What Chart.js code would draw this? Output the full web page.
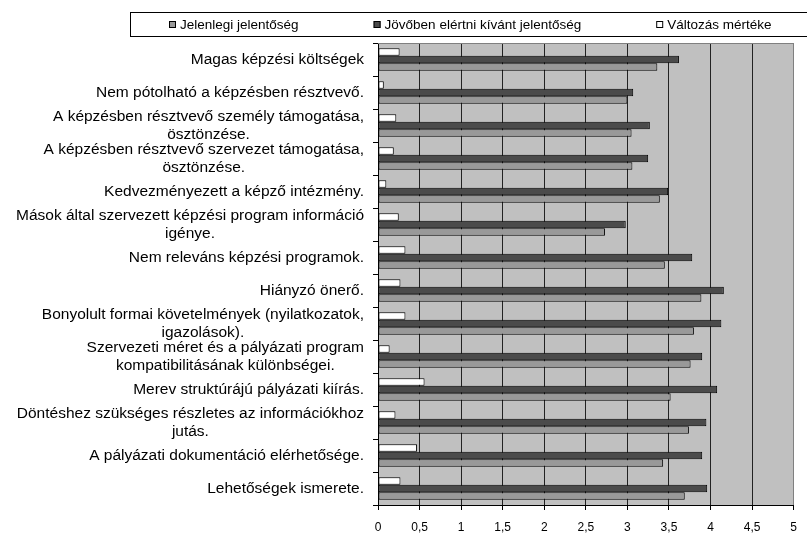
<!DOCTYPE html>
<html>
<head>
<meta charset="utf-8">
<script src="https://cdn.jsdelivr.net/npm/chart.js@4"></script>
<style>
  html, body { margin: 0; padding: 0; background: #fff; }
  #wrap { width: 807px; height: 533px; }
</style>
</head>
<body>
<div id="wrap"><canvas id="chart" width="807" height="533"></canvas></div>
<script>
// Kategóriák felülről lefelé
const categories = [
    'Magas képzési költségek',
    'Nem pótolható a képzésben résztvevő.',
    ['A képzésben résztvevő személy támogatása,', 'ösztönzése.'],
    ['A képzésben résztvevő szervezet támogatása,', 'ösztönzése.'],
    'Kedvezményezett a képző intézmény.',
    ['Mások által szervezett képzési program információ', 'igénye.'],
    'Nem releváns képzési programok.',
    'Hiányzó önerő.',
    ['Bonyolult formai követelmények (nyilatkozatok,', 'igazolások).'],
    ['Szervezeti méret és a pályázati program', 'kompatibilitásának különbségei.'],
    'Merev struktúrájú pályázati kiírás.',
    ['Döntéshez szükséges részletes az információkhoz', 'jutás.'],
    'A pályázati dokumentáció elérhetősége.',
    'Lehetőségek ismerete.'
];

const jelenlegi = [3.36, 3.00, 3.05, 3.06, 3.39, 2.73, 3.45, 3.89, 3.80, 3.76, 3.52, 3.74, 3.43, 3.69];
const jovoben   = [3.62, 3.07, 3.27, 3.25, 3.49, 2.98, 3.78, 4.16, 4.13, 3.90, 4.08, 3.95, 3.90, 3.96];
const valtozas  = [0.26, 0.07, 0.22, 0.19, 0.10, 0.25, 0.33, 0.27, 0.33, 0.14, 0.56, 0.21, 0.47, 0.27];

const xTicks = [0, 0.5, 1, 1.5, 2, 2.5, 3, 3.5, 4, 4.5, 5];

const FONT = '"Liberation Sans", Arial, sans-serif';

// Szürke rajzterület háttér + felső keret
const plotBg = {
    id: 'plotBg',
    beforeDraw(chart) {
        const a = chart.chartArea;
        const ctx = chart.ctx;
        ctx.save();
        ctx.fillStyle = '#c0c0c0';
        ctx.fillRect(a.left, a.top, a.right - a.left, a.bottom - a.top);
        ctx.restore();
    },
    afterDraw(chart) {
        const a = chart.chartArea;
        const ctx = chart.ctx;
        ctx.save();
        ctx.strokeStyle = '#808080';
        ctx.lineWidth = 1;
        ctx.beginPath();
        ctx.moveTo(a.left, Math.round(a.top) + 0.5);
        ctx.lineTo(a.right, Math.round(a.top) + 0.5);
        ctx.stroke();
        ctx.restore();
    }
};

// Kategória feliratok: jobbra igazított blokk, soronként középre
const catLabels = {
    id: 'catLabels',
    afterDraw(chart) {
        const ys = chart.scales.y;
        const ctx = chart.ctx;
        ctx.save();
        ctx.font = '15.5px ' + FONT;
        ctx.fillStyle = '#000';
        ctx.textAlign = 'center';
        ctx.textBaseline = 'middle';
        categories.forEach((lab, i) => {
            const lines = Array.isArray(lab) ? lab : [lab];
            const w = Math.max(...lines.map(l => ctx.measureText(l).width));
            const cx = ys.right - 14 - w / 2;
            const cy = ys.getPixelForValue(i);
            lines.forEach((l, k) => {
                ctx.fillText(l, cx, cy + (k - (lines.length - 1) / 2) * 17.5);
            });
        });
        ctx.restore();
    }
};

// Jelmagyarázat kerettel
const boxLegend = {
    id: 'boxLegend',
    afterDraw(chart) {
        const ctx = chart.ctx;
        ctx.save();
        ctx.strokeStyle = '#000';
        ctx.lineWidth = 1;
        ctx.strokeRect(130.5, 12.5, 700, 24);
        ctx.font = '13.5px ' + FONT;
        ctx.textBaseline = 'middle';
        ctx.textAlign = 'left';
        let x = 169;
        const y = 25;
        chart.data.datasets.slice().reverse().forEach(ds => {
            ctx.fillStyle = ds.backgroundColor;
            ctx.fillRect(x, y - 4, 7, 7);
            ctx.strokeStyle = '#000';
            ctx.strokeRect(x + 0.5, y - 3.5, 6, 6);
            ctx.fillStyle = '#000';
            ctx.fillText(ds.label, x + 11, y);
            x += 11 + ctx.measureText(ds.label).width + 75;
        });
        ctx.restore();
    }
};

function barSet(label, data, color) {
    return {
        label: label,
        data: data,
        backgroundColor: color,
        borderColor: '#000',
        borderWidth: 1,
        borderSkipped: false,
        categoryPercentage: 0.68,
        barPercentage: 1.0
    };
}

new Chart(document.getElementById('chart'), {
    type: 'bar',
    data: {
        labels: categories,
        datasets: [
            barSet('Változás mértéke', valtozas, '#ffffff'),
            barSet('Jövőben elértni kívánt jelentőség', jovoben, '#4b4b4b'),
            barSet('Jelenlegi jelentőség', jelenlegi, '#999999')
        ]
    },
    options: {
        indexAxis: 'y',
        responsive: false,
        animation: false,
        layout: { padding: { top: 43, right: 12, bottom: 0, left: 0 } },
        plugins: {
            legend: { display: false },
            tooltip: { enabled: false }
        },
        scales: {
            x: {
                min: 0,
                max: 5,
                afterBuildTicks(scale) {
                    scale.ticks = xTicks.map(v => ({ value: v }));
                },
                afterFit(scale) {
                    scale.height = 28;
                },
                ticks: {
                    color: '#000',
                    font: { family: FONT, size: 12 },
                    padding: 10,
                    maxRotation: 0,
                    callback: v => String(v).replace('.', ',')
                },
                grid: {
                    color: ctx => (ctx.tick && ctx.tick.value === 5 ? '#808080' : '#222'),
                    tickColor: '#000',
                    tickLength: 5,
                    lineWidth: 1
                },
                border: { color: '#000', width: 1 }
            },
            y: {
                ticks: { display: false },
                afterFit(scale) {
                    scale.width = 378;
                },
                grid: {
                    drawOnChartArea: false,
                    drawTicks: true,
                    tickLength: 5,
                    color: '#000'
                },
                border: { color: '#000', width: 1 }
            }
        }
    },
    plugins: [plotBg, catLabels, boxLegend]
});
</script>
</body>
</html>
